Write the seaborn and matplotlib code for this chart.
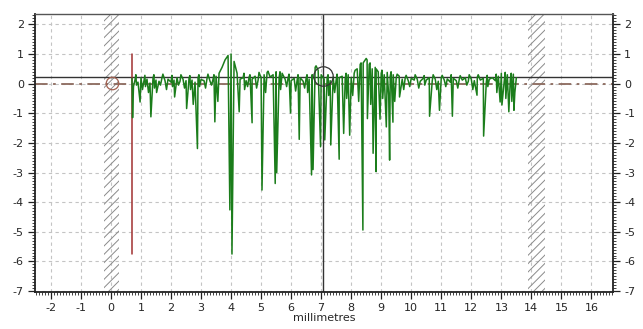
import numpy as np
import pandas as pd
import seaborn as sns
import matplotlib.pyplot as plt
from matplotlib.ticker import MultipleLocator

# trace baseline, sampled every 0.1 mm from 0.7 to 13.5
base_y = [
    0.18, 0.12, 0.05, 0.2, 0.1, 0.15, 0.02, 0.18, 0.12, 0.08,
    0.2, 0.1, 0.15, 0.05, 0.12, 0.2, 0.08, 0.15, 0.1, 0.18,
    0.12, 0.05, 0.2, 0.14, 0.1, 0.18, 0.08, 0.15, 0.25, 0.35,
    0.55, 0.8, 0.95, 1.0, 0.75, 0.35, 0.15, 0.2, 0.1, 0.22,
    0.15, 0.25, 0.12, 0.2, 0.3, 0.38, 0.22, 0.3, 0.4, 0.2,
    0.35, 0.15, 0.2, 0.1, 0.18, 0.12, 0.2, 0.08, 0.18, 0.15,
    0.3, 0.55, 0.45, 0.3, 0.15, 0.2, 0.1, 0.22, 0.12, 0.2,
    0.25, 0.15, 0.3, 0.2, 0.35, 0.5, 0.65, 0.7, 0.85, 0.65,
    0.5, 0.55, 0.4, 0.35, 0.3, 0.38, 0.25, 0.3, 0.2, 0.25,
    0.15, 0.2, 0.1, 0.18, 0.12, 0.15, 0.08, 0.18, 0.12, 0.2,
    0.1, 0.15, 0.08, 0.2, 0.12, 0.16, 0.05, 0.18, 0.1, 0.15,
    0.12, 0.2, 0.08, 0.15, 0.1, 0.22, 0.12, 0.18, 0.05, 0.15,
    0.2, 0.1, 0.25, 0.35, 0.12, 0.3, 0.15, 0.32, 0.2,
]
base_x = np.round(np.linspace(0.7, 13.5, len(base_y)), 2)

# upper flickers in the noise band
up_x = [0.83, 1.13, 1.43, 1.73, 2.03, 2.33, 2.63, 2.93, 3.23, 3.43, 4.43, 4.63,
        4.93, 5.23, 5.63, 5.93, 6.23, 6.53, 6.83, 7.23, 7.53, 7.83, 8.13, 8.33,
        8.53, 8.63, 8.83, 9.03, 9.33, 9.53, 9.83, 10.13, 10.43, 10.73, 11.03,
        11.33, 11.63, 11.93, 12.23, 12.53, 12.83, 13.13, 13.33]
up_y = [0.3, 0.28, 0.3, 0.32, 0.28, 0.3, 0.27, 0.3, 0.32, 0.3, 0.35, 0.3,
        0.38, 0.42, 0.4, 0.32, 0.3, 0.3, 0.6, 0.3, 0.32, 0.35, 0.45, 0.7,
        0.8, 0.7, 0.5, 0.45, 0.4, 0.32, 0.28, 0.3, 0.27, 0.3, 0.28,
        0.3, 0.27, 0.3, 0.3, 0.28, 0.32, 0.38, 0.35]

# small downward flickers in the noise band
dip_x = [0.75, 0.85, 1.05, 1.15, 1.25, 1.45, 1.65, 1.85, 2.05, 2.25, 2.45, 2.65,
         2.95, 3.15, 3.35, 4.45, 4.55, 4.85, 5.15, 5.65, 5.85, 6.15, 6.45, 6.55,
         7.25, 7.45, 7.85, 8.05, 8.25, 8.65, 9.05, 9.25, 9.45, 9.75, 9.95, 10.25,
         10.45, 10.85, 11.15, 11.55, 11.85, 12.05, 12.55, 12.85, 13.15, 13.35, 13.45]
dip_y = [-0.1, -0.05, -0.2, -0.1, -0.3, -0.15, -0.05, -0.2, -0.1, -0.05, -0.15, -0.2,
         -0.1, -0.15, -0.05, -0.2, -0.1, -0.15, -0.3, -0.2, -0.1, -0.25, -0.15, -0.3,
         -0.4, -0.3, -0.5, -0.4, -0.6, -0.7, -0.5, -0.4, -0.6, -0.2, -0.1, -0.15,
         -0.05, -0.2, -0.1, -0.15, -0.05, -0.2, -0.1, -0.3, -0.5, -0.6, -0.3]

# deep spikes
spike_x = [0.72, 0.97, 1.33, 1.52, 2.12, 2.52, 2.74, 2.88, 3.46, 3.56, 3.96, 4.03,
           4.27, 4.7, 5.03, 5.47, 5.52, 5.98, 6.27, 6.68, 6.73, 6.98, 7.12, 7.32,
           7.6, 7.75, 7.95, 8.39, 8.54, 8.73, 8.83, 8.96, 9.17, 9.28, 9.39, 9.61,
           10.61, 10.94, 11.37, 12.19, 12.41, 12.96, 13.02, 13.25, 13.42]
spike_y = [-1.15, -0.62, -1.12, -0.3, -0.45, -0.84, -0.7, -2.19, -1.29, -0.6, -4.26, -5.75,
           -0.95, -1.32, -3.59, -3.37, -3.0, -0.99, -1.88, -3.08, -2.9, -2.13, -1.9, -2.07,
           -2.55, -1.68, -1.74, -4.94, -1.18, -2.35, -2.97, -1.2, -1.46, -2.58, -1.3, -0.45,
           -1.1, -0.9, -1.1, -0.39, -1.77, -0.62, -0.72, -0.95, -0.9]

trace = pd.DataFrame({
    "mm": np.concatenate([base_x, up_x, dip_x, spike_x]),
    "value": np.concatenate([base_y, up_y, dip_y, spike_y]),
}).sort_values("mm")

x_ticks = list(range(-2, 17))
y_ticks = list(range(-7, 3))
bands = [(-0.22, 0.27), (13.9, 14.44)]
ref_level = 0.22
cursor_x = 7.07
marker_x, marker_top, marker_bottom = 0.71, 1.0, -5.75

sns.set_style("ticks")
plt.rcParams["font.family"] = ["Liberation Sans Narrow", "DejaVu Sans"]
plt.rcParams["axes.unicode_minus"] = False
plt.rcParams["hatch.linewidth"] = 0.7
plt.rcParams["hatch.color"] = "#8a8a8a"

fig = plt.figure(figsize=(6.43, 3.29), dpi=100)
ax = fig.add_axes([0.0544, 0.1125, 0.899, 0.845])

for lo, hi in bands:
    ax.axvspan(lo, hi, facecolor="none", edgecolor="#8a8a8a", hatch="////", lw=0, zorder=1)

ax.axhline(0, color="#8c6a5e", lw=1.3, ls=(0, (7, 3, 1.5, 3)), zorder=2)
ax.axhline(ref_level, color="#333333", lw=1.0, zorder=2)
ax.axvline(cursor_x, color="#333333", lw=1.0, zorder=2)
ax.plot([marker_x, marker_x], [marker_top, marker_bottom], color="#a03030", lw=1.1, zorder=3)

sns.lineplot(data=trace, x="mm", y="value", estimator=None, sort=True,
             color="#1b7d1b", lw=1.1, ax=ax, zorder=4)

ax.plot([0.02], [0.02], marker="o", ms=9, mfc="none", mec="#a06050", mew=0.9, zorder=5)
ax.plot([cursor_x], [0.25], marker="o", ms=14, mfc="none", mec="#333333", mew=0.9, zorder=5)

ax.set_xlim(-2.53, 16.72)
ax.set_ylim(-7.03, 2.35)
ax.set_xticks(x_ticks)
ax.set_yticks(y_ticks)
ax.set_xticklabels([str(t) for t in x_ticks])
ax.set_yticklabels([str(t) for t in y_ticks])
ax.xaxis.set_minor_locator(MultipleLocator(0.1))
ax.yaxis.set_minor_locator(MultipleLocator(0.1))
ax.grid(True, which="major", color="#c4c4c4", ls=(0, (3, 3)), lw=0.8)

ax.tick_params(which="both", direction="out", color="#222222", labelsize=8,
               right=True, labelright=True, top=False)
ax.tick_params(which="major", length=5, width=0.9, pad=3)
ax.tick_params(which="minor", length=2.5, width=0.6)

for side in ["left", "bottom", "right"]:
    ax.spines[side].set_color("#222222")
    ax.spines[side].set_linewidth(1.3)
ax.spines["top"].set_color("#555555")
ax.spines["top"].set_linewidth(1.0)

ax.set_xlabel("millimetres", fontsize=8, labelpad=0)
ax.set_ylabel("")

fig.savefig("out.png", dpi=100)
